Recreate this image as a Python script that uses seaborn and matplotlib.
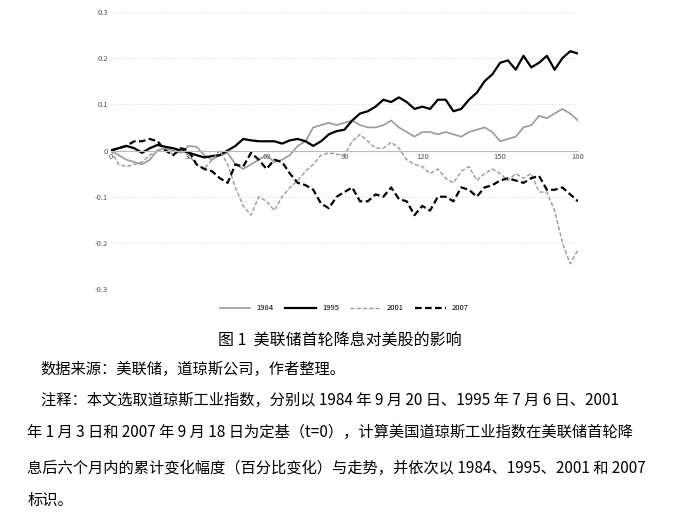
import numpy as np
import pandas as pd
import matplotlib
matplotlib.use("Agg")
import matplotlib.pyplot as plt
import seaborn as sns

plt.rcParams["font.family"] = ["Noto Sans CJK SC", "DejaVu Sans"]

days = list(range(0, 181, 3))
s1984 = [0, -0.01, -0.02, -0.025, -0.03, -0.02, 0.0, 0.005, 0.0, -0.005, 0.01, 0.008, -0.01, -0.02, -0.01,
         -0.005, -0.03, -0.04, -0.03, -0.02, -0.01, -0.025, -0.02, -0.01, 0.01, 0.02, 0.05, 0.055, 0.06, 0.055,
         0.06, 0.065, 0.055, 0.05, 0.05, 0.055, 0.065, 0.05, 0.04, 0.03, 0.04, 0.04, 0.035, 0.04, 0.035,
         0.03, 0.04, 0.045, 0.05, 0.04, 0.02, 0.025, 0.03, 0.05, 0.055, 0.075, 0.07, 0.08, 0.09, 0.08, 0.065]
s1995 = [0, 0.005, 0.01, 0.005, -0.005, 0.005, 0.012, 0.008, 0.005, 0.0, -0.005, -0.01, -0.015, -0.012, -0.01,
         0.0, 0.01, 0.025, 0.022, 0.02, 0.02, 0.02, 0.015, 0.022, 0.025, 0.02, 0.01, 0.02, 0.035, 0.042,
         0.045, 0.065, 0.08, 0.085, 0.095, 0.11, 0.105, 0.115, 0.105, 0.09, 0.095, 0.09, 0.11, 0.11, 0.085,
         0.09, 0.11, 0.125, 0.15, 0.165, 0.19, 0.195, 0.175, 0.205, 0.18, 0.19, 0.205, 0.175, 0.2, 0.215, 0.21]
s2001 = [0, -0.03, -0.035, -0.03, -0.025, -0.01, 0.0, 0.005, -0.01, 0.0, -0.01, -0.03, -0.04, -0.02, 0.0,
         -0.03, -0.08, -0.12, -0.14, -0.1, -0.11, -0.13, -0.1, -0.08, -0.065, -0.045, -0.03, -0.01, -0.005, -0.008,
         -0.01, 0.02, 0.035, 0.02, 0.005, 0.005, 0.018, 0.005, -0.02, -0.03, -0.035, -0.05, -0.04, -0.06, -0.07,
         -0.045, -0.035, -0.065, -0.05, -0.04, -0.05, -0.065, -0.05, -0.06, -0.05, -0.09, -0.09, -0.13, -0.2, -0.245, -0.215]
s2007 = [0, 0.005, 0.01, 0.02, 0.02, 0.025, 0.02, 0.0, -0.01, 0.005, 0.0, -0.03, -0.04, -0.045, -0.06,
         -0.07, -0.03, -0.035, -0.005, -0.02, -0.04, -0.02, -0.025, -0.05, -0.07, -0.075, -0.085, -0.115, -0.125, -0.1,
         -0.09, -0.08, -0.11, -0.11, -0.095, -0.1, -0.08, -0.105, -0.11, -0.14, -0.12, -0.13, -0.1, -0.1, -0.11,
         -0.08, -0.085, -0.1, -0.08, -0.075, -0.065, -0.06, -0.065, -0.07, -0.06, -0.055, -0.085, -0.085, -0.08, -0.095, -0.11]

series = {"1984": s1984, "1995": s1995, "2001": s2001, "2007": s2007}
df = pd.concat([pd.DataFrame({"t": days, "v": v, "year": k}) for k, v in series.items()])

fig = plt.figure(figsize=(6.8, 5.19), dpi=100)
ax = fig.add_axes([0.163, 0.443, 0.687, 0.534])
palette = {"1984": "#999999", "1995": "#000000", "2001": "#999999", "2007": "#000000"}
widths = {"1984": 1.2, "1995": 1.6, "2001": 1.0, "2007": 1.6}
for k in series:
    sns.lineplot(data=df[df.year == k], x="t", y="v", ax=ax, color=palette[k], lw=widths[k],
                 linestyle="-" if k in ("1984", "1995") else (0, (3, 1.5)), label=k)

ax.set_xlim(0, 180)
ax.set_ylim(-0.3, 0.3)
ax.set_xticks([0, 30, 60, 90, 120, 150, 180])
ax.set_yticks([-0.3, -0.2, -0.1, 0, 0.1, 0.2, 0.3])
ax.set_yticklabels(["-0.3", "-0.2", "-0.1", "0", "0.1", "0.2", "0.3"])
ax.tick_params(labelsize=5.5, colors="#555555", length=0, pad=2)
ax.set_xlabel("")
ax.set_ylabel("")
for sp in ["top", "right", "left"]:
    ax.spines[sp].set_visible(False)
ax.spines["bottom"].set_position(("data", 0))
ax.spines["bottom"].set_color("#bbbbbb")
ax.grid(axis="y", color="#dddddd", ls=(0, (2, 2)), lw=0.6)
ax.legend(loc="upper center", bbox_to_anchor=(0.5, -0.03), ncol=4, frameon=False, fontsize=5.5,
          handlelength=4, columnspacing=1.5)

fig.text(0.5, 0.345, "图 1  美联储首轮降息对美股的影响", ha="center", va="center", fontsize=11.5)
lines = [
    (0.06, 0.289, "数据来源：美联储，道琼斯公司，作者整理。"),
    (0.06, 0.229, "注释：本文选取道琼斯工业指数，分别以 1984 年 9 月 20 日、1995 年 7 月 6 日、2001"),
    (0.04, 0.166, "年 1 月 3 日和 2007 年 9 月 18 日为定基（t=0），计算美国道琼斯工业指数在美联储首轮降"),
    (0.04, 0.098, "息后六个月内的累计变化幅度（百分比变化）与走势，并依次以 1984、1995、2001 和 2007"),
    (0.04, 0.036, "标识。"),
]
for x, y, s in lines:
    fig.text(x, y, s, ha="left", va="center", fontsize=11)

fig.savefig("out.png", dpi=100)
